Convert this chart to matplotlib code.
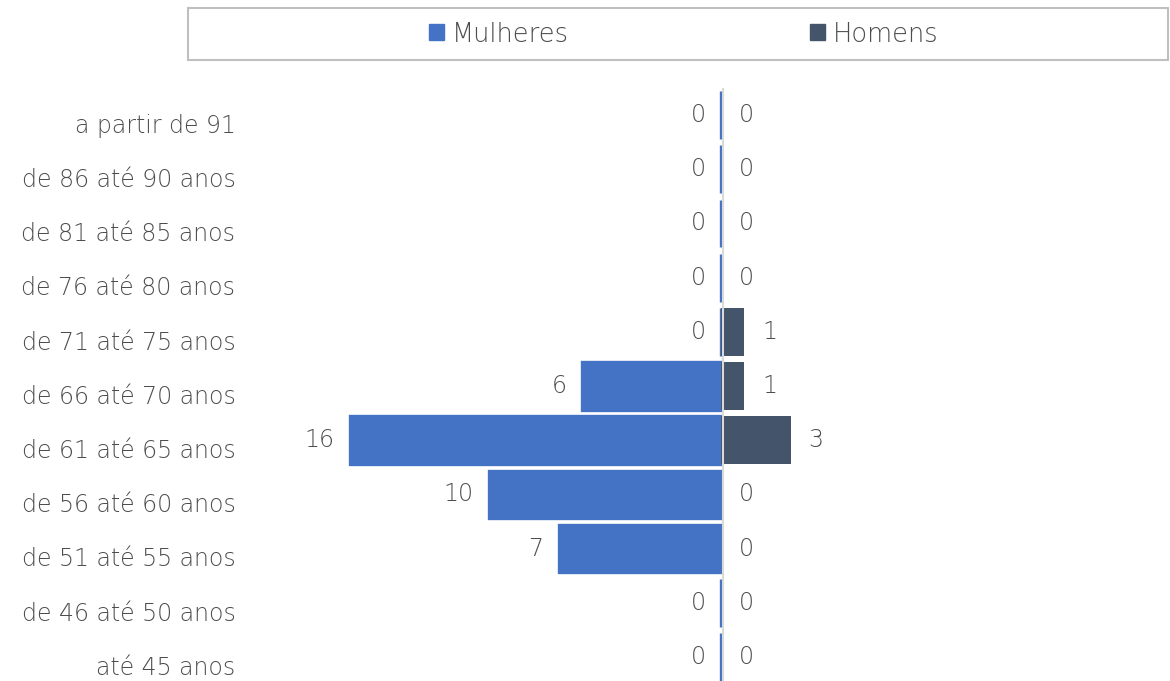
#!/usr/bin/env python3
"""
Pirâmide etária: Mulheres x Homens por faixa de idade.
"""

import matplotlib
matplotlib.use('Agg')
import matplotlib.pyplot as plt
from matplotlib.patches import Rectangle, Patch
from matplotlib.transforms import ScaledTranslation

faixas = ['até 45 anos', 'de 46 até 50 anos', 'de 51 até 55 anos', 'de 56 até 60 anos',
          'de 61 até 65 anos', 'de 66 até 70 anos', 'de 71 até 75 anos', 'de 76 até 80 anos',
          'de 81 até 85 anos', 'de 86 até 90 anos', 'a partir de 91']
mulheres = [0, 0, 7, 10, 16, 6, 0, 0, 0, 0, 0]
homens = [0, 0, 0, 0, 3, 1, 1, 0, 0, 0, 0]

COR_M = '#4472C4'
COR_H = '#44546A'
TXT = '#4d4d4d'
FS = 17

plt.rcParams['font.family'] = ['DejaVu Sans']
plt.rcParams['font.weight'] = 'light'

W, H = 1170, 681
fig = plt.figure(figsize=(W / 100, H / 100), dpi=100)
ax = fig.add_axes([257 / W, 0, 1 - 257 / W, 593 / H])

y = list(range(len(faixas)))
neg = [-v for v in mulheres]

# zero bars in Excel still show a thin blue line, hence the edge
ax.barh(y, neg, height=0.88, color=COR_M, edgecolor=COR_M, linewidth=2.4, zorder=2)
ax.barh(y, homens, height=0.88, color=COR_H, linewidth=0, zorder=2)
# axis line sits just right of the zero bars
shift = ScaledTranslation(1.6 / 100, 0, fig.dpi_scale_trans)
axis_line = ax.axvline(0, color='#D9D9D9', linewidth=1.5, zorder=3)
axis_line.set_transform(ax.get_xaxis_transform() + shift)

for i in y:
    ax.annotate(str(mulheres[i]), (neg[i], i), xytext=(-11, 0), textcoords='offset points',
                ha='right', va='center', fontsize=FS, color=TXT)
    ax.annotate(str(homens[i]), (homens[i], i), xytext=(13, 0), textcoords='offset points',
                ha='left', va='center', fontsize=FS, color=TXT)

ax.set_xlim(-20, (W - 721) / 23.2)
ax.set_ylim(-0.443, 10.5)
ax.set_yticks(y)
ax.set_yticklabels(faixas, fontsize=FS, color=TXT)
ax.tick_params(axis='y', length=0, pad=15.5)
ax.set_xticks([])
for lbl in ax.get_yticklabels():
    lbl.set_transform(lbl.get_transform() + ScaledTranslation(0, -6 / 72, fig.dpi_scale_trans))
for s in ax.spines.values():
    s.set_visible(False)

# legend box
fig.patches.append(Rectangle((188 / W, 1 - 60 / H), (W - 190) / W, 52 / H,
                             transform=fig.transFigure, fill=False,
                             edgecolor='#BFBFBF', linewidth=1.5))
handles = [Patch(color=COR_M, label='Mulheres'), Patch(color=COR_H, label='Homens')]
fig.legend(handles=handles, loc='center', bbox_to_anchor=(684 / W, 1 - 34 / H), ncol=2,
           frameon=False, fontsize=18.5, labelcolor=TXT, handlelength=0.58, handleheight=0.58,
           handletextpad=0.3, columnspacing=9.4)

plt.savefig('out.png', dpi=100)
